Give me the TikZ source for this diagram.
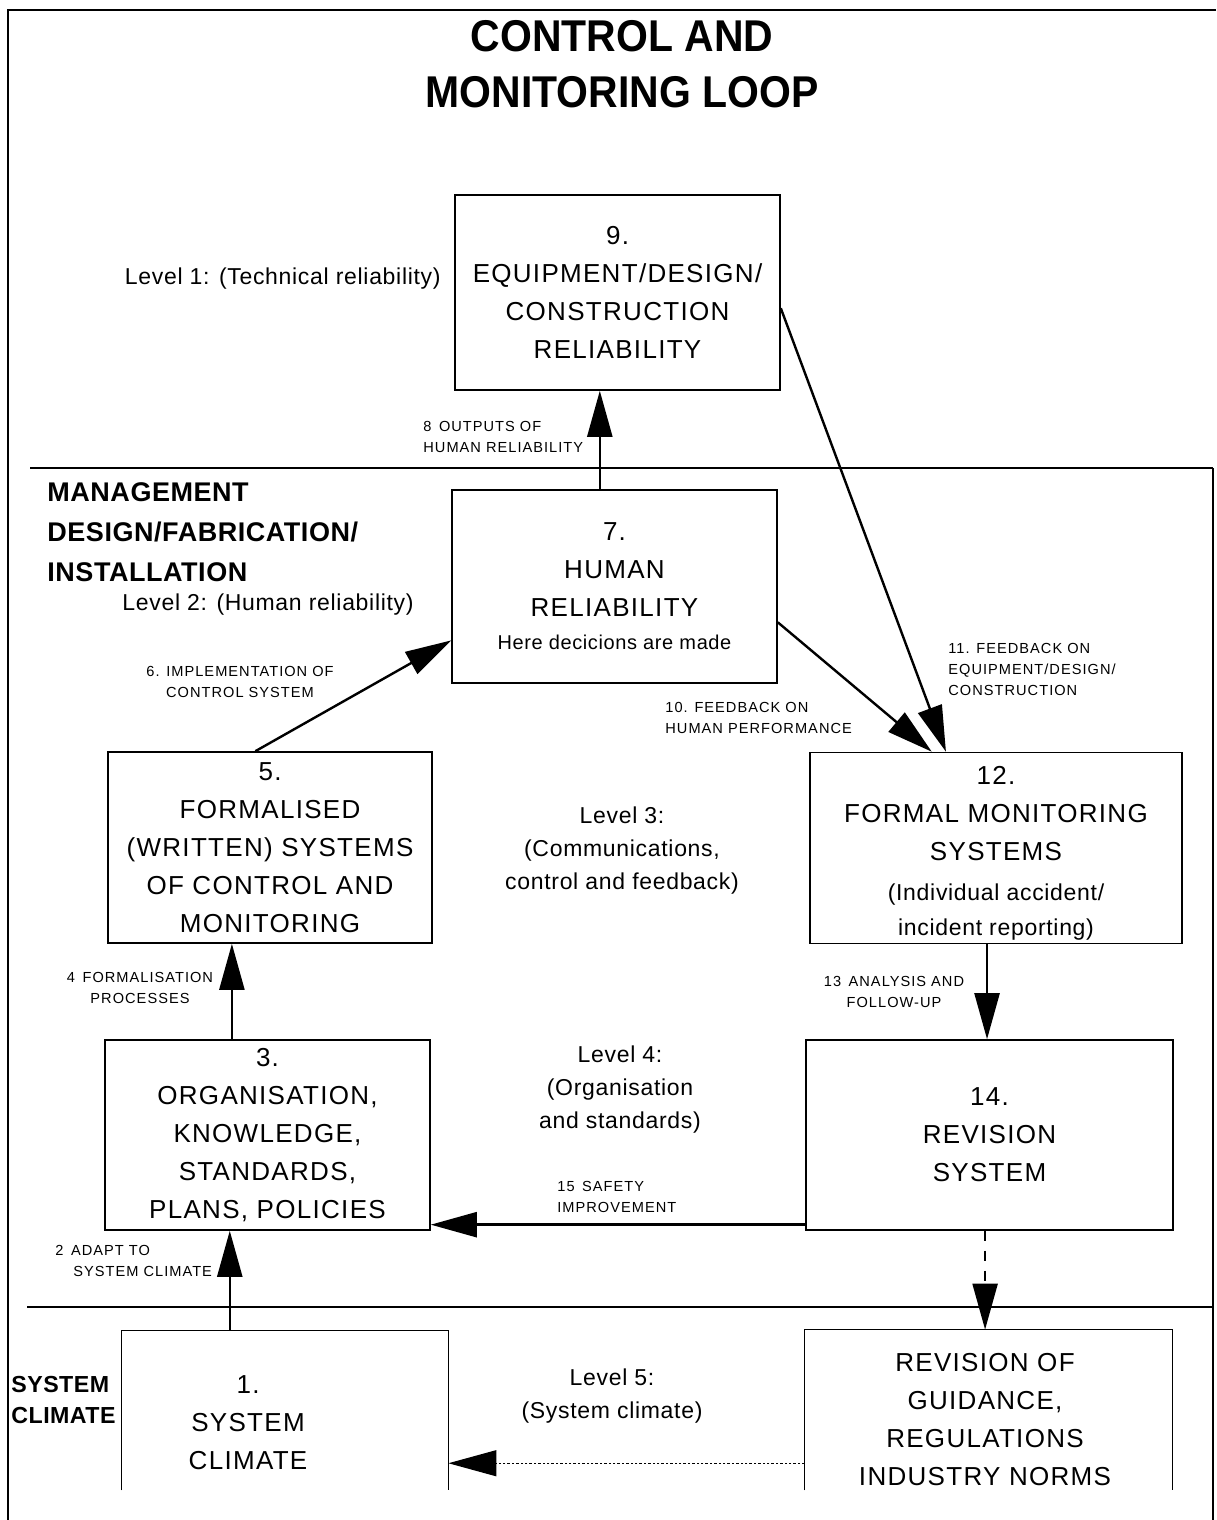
\documentclass[tikz,border=0pt]{standalone}
\usepackage{fontspec}
\setmainfont{Liberation Sans}
\newfontfamily\titlefont[FakeStretch=0.92]{Liberation Sans Bold}
\newfontfamily\spacedfont[LetterSpace=5]{Liberation Sans}
\newfontfamily\smallfont[LetterSpace=7]{Liberation Sans}
\newfontfamily\levelfont[LetterSpace=3]{Liberation Sans}
\newfontfamily\headfont[LetterSpace=2]{Liberation Sans Bold}
\usetikzlibrary{arrows.meta,calc}
\newcommand\lvlsz{\levelfont\fontsize{11.5}{16.5}\selectfont}
\newcommand\notesz{\levelfont\fontsize{10}{16.5}\selectfont}

\begin{document}
\begin{tikzpicture}[x=0.5pt,y=-0.5pt,
  box/.style={draw,line width=0.8pt,inner sep=0pt,align=center,
    font=\spacedfont\fontsize{13}{19}\selectfont},
  frame/.style={inner sep=0pt},
  boxtext/.style={inner sep=0pt,align=center,font=\spacedfont\fontsize{13}{19}\selectfont},
  level/.style={inner sep=0pt,align=center,font=\lvlsz},
  small/.style={inner sep=0pt,font=\smallfont\fontsize{7.3}{10.5}\selectfont},
  head/.style={inner sep=0pt,align=left,font=\headfont\fontsize{13.5}{20}\selectfont},
  rule/.style={line width=1pt},
  arr/.style={line width=1.2pt,-{Triangle[length=23pt,width=12.5pt]}},
]
\useasboundingbox (0,0) rectangle (1216,1520);

% outer frame and level dividers
\draw[line width=0.8pt] (1216,10) -- (8,10) -- (8,1520);
\draw[line width=0.8pt] (1213,468) -- (1213,1520);
\draw[rule] (30,468) -- (1213,468);
\draw[rule] (27,1307) -- (1213,1307);

% title
\node[inner sep=0pt,align=center,font=\titlefont\fontsize{22.25}{28}\selectfont]
  (title) at (622,64) {CONTROL AND\\MONITORING LOOP};

% boxes
\node[box,minimum width=162.5pt,minimum height=97.5pt] (b9) at (617.5,292.5)
  {9.\\EQUIPMENT/DESIGN/\\CONSTRUCTION\\RELIABILITY};
\node[box,minimum width=162.5pt,minimum height=96.5pt] (b7) at (614.5,586.5)
  {7.\\HUMAN\\RELIABILITY\\[-2.5pt]{\notesz Here decicions are made}};
\node[box,minimum width=162pt,minimum height=95.5pt] (b5) at (270,847.5)
  {5.\\FORMALISED\\(WRITTEN) SYSTEMS\\OF CONTROL AND\\MONITORING};
\node[box,minimum width=186pt,minimum height=95.5pt] (b12) at (996,848) {};
\node[boxtext] (t12) at (996,853.5)
  {12.\\FORMAL MONITORING\\SYSTEMS\\[1pt]{\lvlsz (Individual accident/}\\[-1.5pt]{\lvlsz incident reporting)}};
\node[box,minimum width=162.5pt,minimum height=95pt] (b3) at (267.5,1135)
  {3.\\ORGANISATION,\\KNOWLEDGE,\\STANDARDS,\\PLANS, POLICIES};
\node[box,minimum width=183.5pt,minimum height=95pt] (b14) at (989.5,1135)
  {14.\\REVISION\\SYSTEM};

% open-bottomed boxes of the system climate level
\node[frame,minimum width=163pt,minimum height=79.5pt] (b1) at (285,1410.5) {};
\draw[line width=0.8pt] (b1.south west) -- (b1.north west) -- (b1.north east) -- (b1.south east);
\node[boxtext] (t1) at (248,1423) {1.\\SYSTEM\\CLIMATE};
\node[frame,minimum width=183.5pt,minimum height=80pt] (b16) at (988.5,1410) {};
\draw[line width=0.8pt] (b16.south west) -- (b16.north west) -- (b16.north east) -- (b16.south east);
\node[boxtext] (t16) at (985,1420) {REVISION OF\\GUIDANCE,\\REGULATIONS\\INDUSTRY NORMS};

% level descriptions
\node[level,anchor=east] (l1) at (441,279) {Level 1: (Technical reliability)};
\node[level,anchor=east] (l2) at (414,605) {Level 2: (Human reliability)};
\node[level] (l3) at (622,851) {Level 3:\\(Communications,\\control and feedback)};
\node[level] (l4) at (620,1090) {Level 4:\\(Organisation\\and standards)};
\node[level] (l5) at (612,1396) {Level 5:\\(System climate)};

% level headings
\node[head,anchor=west] (h2) at (47,532) {MANAGEMENT\\DESIGN/FABRICATION/\\INSTALLATION};
\node[head,anchor=west,font=\headfont\fontsize{11.6}{15.5}\selectfont] (h5) at (11,1400) {SYSTEM\\CLIMATE};

% connectors
\draw[arr] ($(b7.north west)!0.455!(b7.north east)$) coordinate (s8) -- (s8 |- b9.south);
\draw[arr] ($(b5.north west)!0.455!(b5.north east)$) -- ($(b7.north west)!0.777!(b7.south west)$);
\draw[arr] ($(b7.north east)!0.684!(b7.south east)$) -- ($(b12.north west)!0.328!(b12.north east)$);
\draw[arr] ($(b9.north east)!0.58!(b9.south east)$) -- ($(b12.north west)!0.366!(b12.north east)$);
\draw[arr] ($(b3.north west)!0.391!(b3.north east)$) coordinate (s4) -- (s4 |- b5.south);
\draw[arr] ($(b12.south west)!0.476!(b12.south east)$) coordinate (s13) -- (s13 |- b14.north);
\draw[arr] ($(b14.north west)!0.968!(b14.south west)$) coordinate (s15) -- (s15 -| b3.east);
\draw[arr] ($(b1.north west)!0.331!(b1.north east)$) coordinate (s2) -- (s2 |- b3.south);
\draw[arr,dash pattern=on 5pt off 5pt] ($(b14.south west)!0.488!(b14.south east)$) coordinate (sd) -- (sd |- b16.north);
\draw[line width=0.6pt,dash pattern=on 1.2pt off 1pt,-{Triangle[length=24pt,width=13pt]}]
  ($(b16.north west)!0.831!(b16.south west)$) coordinate (sdot) -- (sdot -| b1.east);

% connector labels
\node[small,align=left,anchor=west] (n8) at (423,437) {8\, OUTPUTS OF\\HUMAN RELIABILITY};
\node[small,align=center] (n6) at (240,682) {6. IMPLEMENTATION OF\\CONTROL SYSTEM};
\node[small,align=left,anchor=west] (n10) at (665,718) {10. FEEDBACK ON\\HUMAN PERFORMANCE};
\node[small,align=left,anchor=west] (n11) at (948,669) {11. FEEDBACK ON\\EQUIPMENT/DESIGN/\\CONSTRUCTION};
\node[small,align=center] (n4) at (140,988) {4\, FORMALISATION\\PROCESSES};
\node[small,align=center] (n13) at (894,992) {13\, ANALYSIS AND\\FOLLOW-UP};
\node[small,align=left,anchor=west] (n15) at (557,1197) {15\, SAFETY\\IMPROVEMENT};
\node[small,align=left,anchor=west] (n2) at (55,1261) {2\, ADAPT TO\\\hspace*{9pt}SYSTEM CLIMATE};
\end{tikzpicture}
\end{document}
